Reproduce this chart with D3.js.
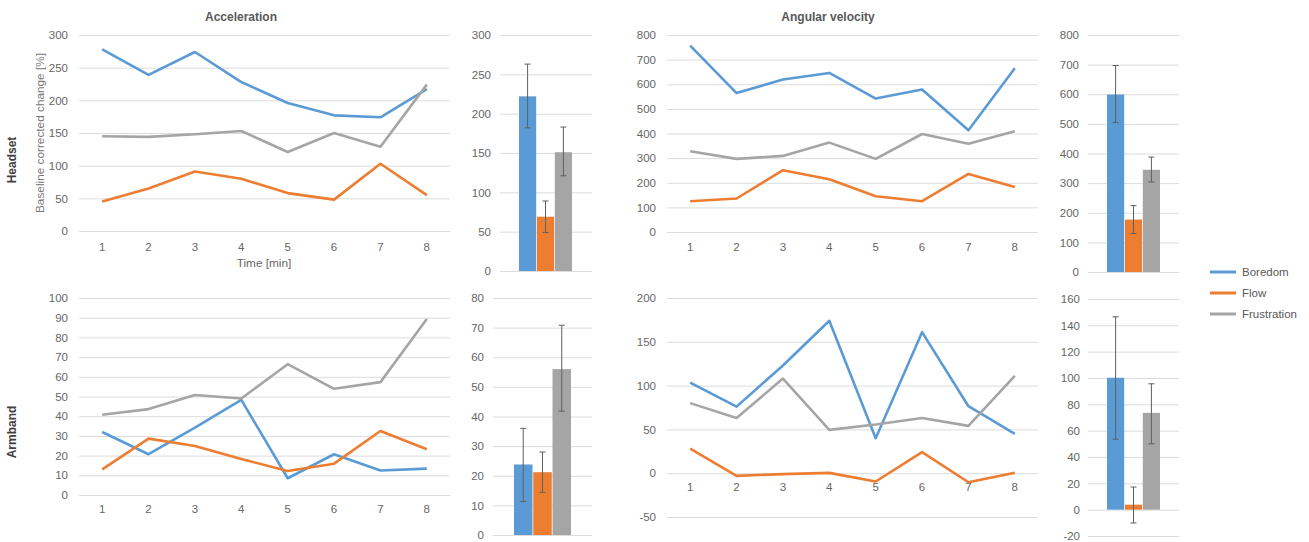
<!DOCTYPE html>
<html>
<head>
<meta charset="utf-8">
<script src="https://cdn.jsdelivr.net/npm/d3@7"></script>
<style>
  html, body { margin: 0; padding: 0; background: #fff; }
  svg { display: block; font-family: "Liberation Sans", Arial, sans-serif; }
  .tick text { fill: #666; font-size: 11.5px; }
  .grid line { stroke: #dcdcdc; stroke-width: 1; }
  .domain { display: none; }
</style>
</head>
<body>
<svg id="chart" width="1309" height="542"></svg>
<script>
// ---- data ----
const minutes = [1, 2, 3, 4, 5, 6, 7, 8];
const seriesNames = ["Boredom", "Flow", "Frustration"];
const seriesColors = ["#5B9BD5", "#ED7D31", "#A5A5A5"];

// Headset, acceleration (% change per minute)
const headAccBoredom     = [278, 239, 274, 228, 196, 177, 174, 217];
const headAccFlow        = [45, 65, 91, 80, 58, 48, 103, 55];
const headAccFrustration = [145, 144, 148, 153, 121, 150, 129, 224];
const headAccMean = [222, 69, 151];
const headAccLow  = [182, 49, 121];
const headAccHigh = [263, 89, 183];
const headAccTicks = [0, 50, 100, 150, 200, 250, 300];

// Headset, angular velocity
const headAngBoredom     = [757, 564, 619, 646, 542, 579, 413, 665];
const headAngFlow        = [125, 136, 251, 214, 145, 125, 236, 183];
const headAngFrustration = [328, 297, 309, 363, 297, 398, 358, 409];
const headAngMean = [599, 177, 345];
const headAngLow  = [505, 130, 304];
const headAngHigh = [697, 224, 388];
const headAngTicks = [0, 100, 200, 300, 400, 500, 600, 700, 800];

// Armband, acceleration
const armAccBoredom     = [32, 20.7, 34.2, 48.3, 8.5, 20.7, 12.4, 13.4];
const armAccFlow        = [13, 28.6, 24.9, 18.3, 12.2, 15.9, 32.5, 23.2];
const armAccFrustration = [40.7, 43.6, 50.8, 49, 66.4, 53.9, 57.3, 89.3];
const armAccMean = [23.8, 21.2, 56];
const armAccLow  = [11.3, 14.4, 41.8];
const armAccHigh = [36, 28, 70.8];
const armAccLineTicks = [0, 10, 20, 30, 40, 50, 60, 70, 80, 90, 100];
const armAccBarTicks  = [0, 10, 20, 30, 40, 50, 60, 70, 80];

// Armband, angular velocity
const armAngBoredom     = [103.5, 76, 123, 174, 40, 161, 76.5, 45];
const armAngFlow        = [28, -3, -1, 0.4, -9.5, 24, -10.3, 0.4];
const armAngFrustration = [80, 63, 108, 49.5, 55.5, 63, 54, 111];
const armAngMean = [100.2, 3.8, 73.5];
const armAngLow  = [53.5, -10.1, 50];
const armAngHigh = [146.5, 17.2, 95.6];
const armAngLineTicks = [-50, 0, 50, 100, 150, 200];
const armAngBarTicks  = [-20, 0, 20, 40, 60, 80, 100, 120, 140, 160];

// ---- drawing ----
const svg = d3.select("#chart");
// plain hyphen for negative numbers
const fmtValue = d => String(d);

function linePanel(cfg) {
  const g = svg.append("g");
  const x = d3.scaleBand().domain(minutes).range([cfg.x0, cfg.x1]);
  const y = d3.scaleLinear().domain(d3.extent(cfg.ticks)).range([cfg.yBottom, cfg.yTop]);

  // gridlines + value labels
  g.append("g")
    .attr("class", "grid")
    .attr("transform", `translate(${cfg.x0},0)`)
    .call(d3.axisLeft(y).tickValues(cfg.ticks).tickFormat(fmtValue)
      .tickSize(-(cfg.x1 - cfg.x0)).tickPadding(11));

  // category labels sit just under the zero line
  g.append("g")
    .attr("transform", `translate(0,${y(0)})`)
    .call(d3.axisBottom(x).tickSize(0).tickPadding(cfg.labelPad))
    .call(a => a.selectAll(".tick line").remove());

  const line = d3.line()
    .x((d, i) => x(minutes[i]) + x.bandwidth() / 2)
    .y(d => y(d));

  cfg.series.forEach((vals, k) => {
    g.append("path")
      .datum(vals)
      .attr("fill", "none")
      .attr("stroke", seriesColors[k])
      .attr("stroke-width", 2.6)
      .attr("stroke-linejoin", "round")
      .attr("d", line);
  });
}

function barPanel(cfg) {
  const g = svg.append("g");
  const y = d3.scaleLinear().domain(d3.extent(cfg.ticks)).range([cfg.yBottom, cfg.yTop]);
  const x = d3.scaleBand().domain(seriesNames).range([cfg.b0, cfg.b1]).paddingInner(0.04);

  g.append("g")
    .attr("class", "grid")
    .attr("transform", `translate(${cfg.x0},0)`)
    .call(d3.axisLeft(y).tickValues(cfg.ticks).tickFormat(fmtValue)
      .tickSize(-(cfg.x1 - cfg.x0)).tickPadding(cfg.pad));

  seriesNames.forEach((name, k) => {
    const v = cfg.mean[k];
    g.append("rect")
      .attr("x", x(name))
      .attr("width", x.bandwidth())
      .attr("y", y(Math.max(0, v)))
      .attr("height", Math.abs(y(v) - y(0)))
      .attr("fill", seriesColors[k]);
  });

  // error bars
  seriesNames.forEach((name, k) => {
    const cx = x(name) + x.bandwidth() / 2;
    const eg = g.append("g").attr("stroke", "#5f5f5f").attr("stroke-width", 1);
    eg.append("line").attr("x1", cx).attr("x2", cx)
      .attr("y1", y(cfg.low[k])).attr("y2", y(cfg.high[k]));
    [cfg.low[k], cfg.high[k]].forEach(v => {
      eg.append("line").attr("x1", cx - 3).attr("x2", cx + 3)
        .attr("y1", y(v)).attr("y2", y(v));
    });
  });
}

// Headset row
linePanel({ x0: 79, x1: 450, yTop: 35, yBottom: 231, ticks: headAccTicks, labelPad: 12,
  series: [headAccBoredom, headAccFlow, headAccFrustration] });
barPanel({ x0: 500, x1: 592, b0: 519, b1: 572, yTop: 35, yBottom: 271, pad: 9, ticks: headAccTicks,
  mean: headAccMean, low: headAccLow, high: headAccHigh });
linePanel({ x0: 667, x1: 1038, yTop: 35, yBottom: 232, ticks: headAngTicks, labelPad: 11,
  series: [headAngBoredom, headAngFlow, headAngFrustration] });
barPanel({ x0: 1088, x1: 1179, b0: 1107, b1: 1160, yTop: 35, yBottom: 272, pad: 9, ticks: headAngTicks,
  mean: headAngMean, low: headAngLow, high: headAngHigh });

// Armband row
linePanel({ x0: 79, x1: 450, yTop: 298, yBottom: 495, ticks: armAccLineTicks, labelPad: 10,
  series: [armAccBoredom, armAccFlow, armAccFrustration] });
barPanel({ x0: 493, x1: 592, b0: 514, b1: 571, yTop: 298, yBottom: 535, pad: 9, ticks: armAccBarTicks,
  mean: armAccMean, low: armAccLow, high: armAccHigh });
linePanel({ x0: 667, x1: 1038, yTop: 298, yBottom: 517, ticks: armAngLineTicks, labelPad: 10,
  series: [armAngBoredom, armAngFlow, armAngFrustration] });
barPanel({ x0: 1088, x1: 1179, b0: 1107, b1: 1160, yTop: 299, yBottom: 536, pad: 8, ticks: armAngBarTicks,
  mean: armAngMean, low: armAngLow, high: armAngHigh });

// ---- titles and labels ----
const text = (x, y, str, opts = {}) => svg.append("text")
  .attr("x", x).attr("y", y)
  .attr("text-anchor", "middle")
  .attr("dominant-baseline", "central")
  .attr("fill", opts.fill || "#595959")
  .attr("font-size", opts.size || 12)
  .attr("font-weight", opts.bold ? "bold" : "normal")
  .attr("transform", opts.rotate ? `rotate(-90,${x},${y})` : null)
  .text(str);

text(241, 17, "Acceleration", { bold: true });
text(828, 17, "Angular velocity", { bold: true });
text(12, 160, "Headset", { bold: true, rotate: true, fill: "#404040" });
text(12, 432, "Armband", { bold: true, rotate: true, fill: "#404040" });
text(40, 133, "Baseline corrected change [%]", { rotate: true, size: 11.8, fill: "#777" });
text(264, 263, "Time [min]", { size: 11.8, fill: "#666" });

// legend
const legend = svg.append("g");
seriesNames.forEach((name, k) => {
  const ly = 272 + k * 21;
  legend.append("line")
    .attr("x1", 1210).attr("x2", 1236).attr("y1", ly).attr("y2", ly)
    .attr("stroke", seriesColors[k]).attr("stroke-width", 3);
  legend.append("text")
    .attr("x", 1242).attr("y", ly)
    .attr("dominant-baseline", "central")
    .attr("fill", "#595959").attr("font-size", 11.5)
    .text(name);
});
</script>
</body>
</html>
